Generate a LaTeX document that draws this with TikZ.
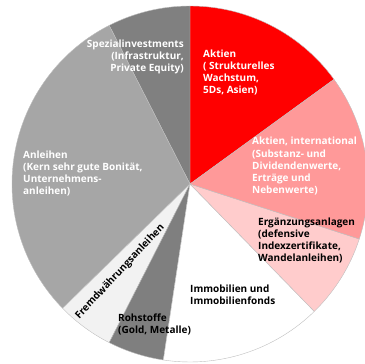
\documentclass[tikz,border=0pt]{standalone}
\usepackage{fontspec}
\setmainfont{Open Sans}
\usepackage{xcolor}
\usetikzlibrary{positioning}

\definecolor{aktienred}{HTML}{FF0000}
\definecolor{intlpink}{HTML}{FF9999}
\definecolor{ergpink}{HTML}{FFCCCC}
\definecolor{rohgray}{HTML}{7F7F7F}
\definecolor{fremdgray}{HTML}{F2F2F2}
\definecolor{anlgray}{HTML}{A6A6A6}
\definecolor{spezgray}{HTML}{808080}

\begin{document}
\begin{tikzpicture}[
        x=1pt, y=1pt,
        slice/.style={draw=black!25, line width=0.4pt},
        lbl/.style={inner sep=0pt, align=left, font=\fontsize{10}{12.3}\selectfont\bfseries},
        lblwhite/.style={lbl, text=white},
        lblblack/.style={lbl, text=black},
    ]
        \useasboundingbox (-190,-180) rectangle (175,184);

        % Slices
        \foreach \from/\to/\col in {36/90/aktienred, 90/117/spezgray, 117/224.3/anlgray,
                224.3/243/fremdgray, 243/261.4/rohgray, 261.4/314.3/white,
                314.3/342/ergpink, 342/396/intlpink}
            \filldraw[slice, fill=\col] (0,0) -- (\from:178) arc[start angle=\from, end angle=\to, radius=178] -- cycle;

        % Labels (anchored at the baseline of the last line)
        \node[lblwhite, anchor=base west] (aktien) at (13,90) {Aktien\\( Strukturelles\\Wachstum,\\5Ds, Asien)};
        \node[lblwhite, anchor=base west] (intl) at (62,-10) {Aktien, international\\(Substanz- und\\Dividendenwerte,\\Erträge und\\Nebenwerte)};
        \node[lblblack, anchor=base west] (erg) at (68,-78) {Ergänzungsanlagen\\(defensive\\Indexzertifikate,\\Wandelanleihen)};
        \node[lblblack, anchor=base west] (immo) at (0,-121) {Immobilien und\\Immobilienfonds};
        \node[lblblack, anchor=base west] (roh) at (-72,-150) {Rohstoffe\\(Gold, Metalle)};
        \node[lblblack, rotate=47] (fremd) at (-70,-88) {Fremdwährungsanleihen};
        \node[lblwhite, anchor=base west] (anl) at (-167,-11) {Anleihen\\(Kern sehr gute Bonität,\\Unternehmens-\\anleihen)};
        \node[lblwhite, align=right, anchor=base east] (spez) at (-6,112) {Spezialinvestments\\(Infrastruktur,\\Private Equity)};
    \end{tikzpicture}
\end{document}
